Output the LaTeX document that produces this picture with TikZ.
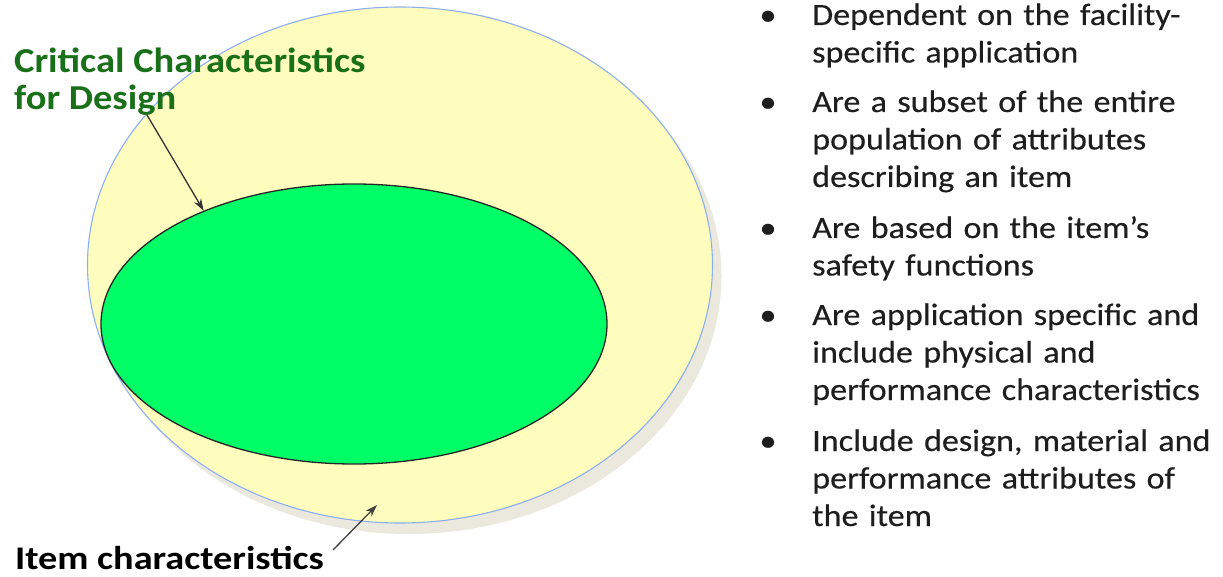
\documentclass[tikz,border=0pt]{standalone}
\usepackage{fontspec}
\setmainfont{Carlito}
\newfontfamily\titlefont[FakeStretch=1.10]{Carlito}
\newfontfamily\itemfont[FakeStretch=1.16]{Carlito}
\newfontfamily\bulletfont[FakeStretch=1.1,FakeBold=0.3]{Carlito}
\usetikzlibrary{shapes.geometric,arrows.meta}
\definecolor{outerfill}{RGB}{255,253,190}
\definecolor{outerline}{RGB}{140,175,240}
\definecolor{shadowc}{RGB}{235,232,222}
\definecolor{innerfill}{RGB}{0,255,102}
\definecolor{greentxt}{RGB}{25,112,25}
\definecolor{txt}{RGB}{30,30,30}
\tikzset{
  blob/.style={ellipse, inner sep=0pt},
  lbl/.style={anchor=base west, inner sep=0pt, align=left},
  bul/.style={anchor=base west, inner sep=0pt, align=left, text width=420pt,
    font=\bulletfont\fontsize{31}{37.5}\selectfont, text=txt},
  dot/.style={anchor=base, inner sep=0pt, font=\bulletfont\fontsize{31}{37.5}\selectfont, text=txt},
  pointer/.style={-{Stealth[length=12pt,width=8pt]}, line width=1.3pt}
}
\begin{document}
\begin{tikzpicture}[x=1pt,y=-1pt]
\useasboundingbox (0,0) rectangle (1223,577);
% outer ellipse with shadow
\node[blob, fill=shadowc, minimum width=625pt, minimum height=516pt] (shadow) at (409,276) {};
\node[blob, fill=outerfill, draw=outerline, line width=1.1pt, minimum width=625pt, minimum height=516pt] (outer) at (400,265) {};
% inner ellipse
\node[blob, fill=innerfill, draw=black!85, line width=1.3pt, minimum width=506pt, minimum height=280pt] (inner) at (354,324) {};
% labels
\node[lbl, font=\titlefont\bfseries\fontsize{35}{37}\selectfont, text=greentxt] (crit) at (14,110) {Critical Characteristics\\for Design};
\node[lbl, font=\itemfont\bfseries\fontsize{33}{37}\selectfont, text=black] (item) at (15,569) {Item characteristics};
\coordinate (critstart) at (147,115);
\coordinate (itemstart) at (333,550);
\coordinate (itemend) at (377,505);
\draw[pointer, black!80] (critstart) -- (inner.143);
\draw[pointer, black!75] (itemstart) -- (itemend);
% bullets
\node[dot] (d1) at (768,25) {•};
\node[bul] (b1) at (812,25) {Dependent on the facility-\\specific application};
\node[dot] (d2) at (768,112) {•};
\node[bul] (b2) at (812,112) {Are a subset of the entire\\population of attributes\\describing an item};
\node[dot] (d3) at (768,238) {•};
\node[bul] (b3) at (812,238) {Are based on the item’s\\safety functions};
\node[dot] (d4) at (768,325) {•};
\node[bul] (b4) at (812,325) {Are application specific and\\include physical and\\performance characteristics};
\node[dot] (d5) at (768,451) {•};
\node[bul] (b5) at (812,451) {Include design, material and\\performance attributes of\\the item};
\end{tikzpicture}
\end{document}
